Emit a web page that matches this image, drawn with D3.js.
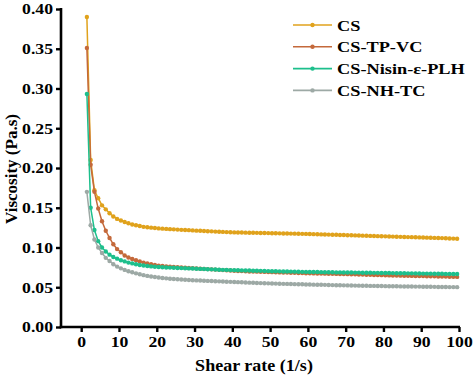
<!DOCTYPE html>
<html><head><meta charset="utf-8">
<script src="https://cdn.jsdelivr.net/npm/d3@7"></script>
<style>html,body{margin:0;padding:0;background:#fff;}svg{display:block;}</style>
</head><body>
<svg id="chart" width="474" height="377"></svg>
<script>
const shearRate = [1.5,2.5,3.5,4.5,5.5,6.5,7.5,8.5,9.5,10.5,11.5,12.5,13.5,14.5,15.5,16.5,17.5,18.5,19.5,20.5,
21.5,22.5,23.5,24.5,25.5,26.5,27.5,28.5,29.5,30.5,31.5,32.5,33.5,34.5,35.5,36.5,37.5,38.5,39.5,40.5,
41.5,42.5,43.5,44.5,45.5,46.5,47.5,48.5,49.5,50.5,51.5,52.5,53.5,54.5,55.5,56.5,57.5,58.5,59.5,60.5,
61.5,62.5,63.5,64.5,65.5,66.5,67.5,68.5,69.5,70.5,71.5,72.5,73.5,74.5,75.5,76.5,77.5,78.5,79.5,80.5,
81.5,82.5,83.5,84.5,85.5,86.5,87.5,88.5,89.5,90.5,91.5,92.5,93.5,94.5,95.5,96.5,97.5,98.5,99.5];

const csValues = [0.390,0.210,0.172,0.162,0.153,0.148,0.143,0.139,0.136,0.134,0.132,0.1305,0.129,0.128,0.127,0.126,0.1255,0.125,0.1245,0.124,
0.1237,0.1234,0.1231,0.1228,0.1225,0.1222,0.122,0.1218,0.1215,0.1212,0.121,0.1207,0.1205,0.1203,0.12,0.1198,0.1196,0.1194,0.1192,0.119,
0.1189,0.1188,0.1187,0.1186,0.1185,0.1184,0.1183,0.1182,0.1181,0.118,
0.1179,0.1178,0.1177,0.1176,0.1175,0.1174,0.1173,0.1172,0.1171,0.117,
0.1168,0.1167,0.1165,0.1164,0.1162,0.1161,0.116,0.1158,0.1157,0.1155,
0.1154,0.1152,0.1151,0.1149,0.1148,0.1146,0.1145,0.1143,0.1142,0.114,
0.1138,0.1137,0.1135,0.1134,0.1132,0.1131,0.113,0.1128,0.1127,0.1125,
0.1124,0.1122,0.1121,0.1119,0.1118,0.1116,0.1114,0.1112,0.111];

const tpvcValues = [0.351,0.204,0.170,0.149,0.133,0.121,0.112,0.104,0.098,0.094,0.090,0.0875,0.0855,0.084,0.0825,0.081,0.080,0.079,0.078,0.0772,
0.0767,0.0762,0.0758,0.0755,0.0752,0.0749,0.0746,0.0743,0.074,0.0737,0.0734,0.0731,0.0728,0.0725,0.0722,0.0719,0.0716,0.0713,0.071,0.0707,
0.0705,0.0703,0.0701,0.0699,0.0698,0.0696,0.0694,0.0693,0.0691,0.069,
0.0688,0.0687,0.0685,0.0684,0.0682,0.0681,0.068,0.0678,0.0677,0.0675,
0.0674,0.0673,0.0672,0.0671,0.067,0.0669,0.0668,0.0667,0.0666,0.0665,
0.0664,0.0662,0.0661,0.0659,0.0658,0.0656,0.0655,0.0653,0.0652,0.065,
0.0649,0.0648,0.0647,0.0646,0.0645,0.0644,0.0643,0.0642,0.0641,0.064,
0.0639,0.0638,0.0637,0.0636,0.0635,0.0634,0.0633,0.0632,0.063];

const nisinValues = [0.293,0.150,0.122,0.108,0.100,0.095,0.091,0.088,0.086,0.084,0.0825,0.081,0.080,0.079,0.078,0.0773,0.0767,0.0762,0.0758,0.0755,
0.0752,0.0749,0.0747,0.0745,0.0743,0.0741,0.0739,0.0737,0.0735,0.0733,0.0731,0.0729,0.0727,0.0725,0.0723,0.0721,0.0719,0.0718,0.0716,0.0715,
0.0714,0.0712,0.0711,0.071,0.0708,0.0707,0.0706,0.0705,0.0703,0.0702,
0.0701,0.07,0.0699,0.0698,0.0697,0.0696,0.0695,0.0694,0.0693,0.0692,
0.0691,0.0691,0.069,0.0689,0.0689,0.0688,0.0687,0.0687,0.0686,0.0685,
0.0685,0.0684,0.0684,0.0683,0.0682,0.0682,0.0681,0.0681,0.068,0.0679,
0.0679,0.0678,0.0677,0.0677,0.0676,0.0675,0.0675,0.0674,0.0673,0.0672,
0.0672,0.0671,0.067,0.067,0.0669,0.0668,0.0668,0.0667,0.0666];

const nhtcValues = [0.170,0.128,0.110,0.100,0.093,0.087,0.083,0.079,0.076,0.0738,0.0718,0.0702,0.0688,0.0675,0.0663,0.0652,0.0643,0.0635,0.0628,0.0622,
0.0617,0.0612,0.0607,0.0603,0.06,0.0597,0.0594,0.0591,0.0588,0.0586,0.0584,0.0582,0.058,0.0578,0.0576,0.0574,0.0572,0.057,0.0568,0.0566,
0.0564,0.0562,0.056,0.0558,0.0556,0.0554,0.0552,0.055,0.0549,0.0547,
0.0546,0.0544,0.0543,0.0542,0.054,0.0539,0.0538,0.0537,0.0535,0.0534,
0.0533,0.0532,0.0531,0.053,0.0528,0.0527,0.0526,0.0525,0.0524,0.0523,
0.0522,0.0521,0.052,0.0519,0.0518,0.0517,0.0517,0.0516,0.0515,0.0514,
0.0513,0.0512,0.0512,0.0511,0.051,0.051,0.0509,0.0508,0.0508,0.0507,
0.0506,0.0506,0.0505,0.0504,0.0504,0.0503,0.0502,0.0502,0.0501];

const seriesNames = ["CS","CS-TP-VC","CS-Nisin-\u03b5-PLH","CS-NH-TC"];
const seriesColors = ["#E0A21C","#C4693B","#1DBF8C","#9DA9A5"];
const seriesValues = [csValues, tpvcValues, nisinValues, nhtcValues];
const xTicks = [0,10,20,30,40,50,60,70,80,90,100];
const yTicks = [0,0.05,0.10,0.15,0.20,0.25,0.30,0.35,0.40];

const svg = d3.select("#chart");
const pLeft = 61, pRight = 459, pTop = 9, pBottom = 327;
const x = d3.scaleLinear().domain([-5.35, 100]).range([pLeft, pRight]);
const y = d3.scaleLinear().domain([0, 0.40]).range([pBottom, pTop]);
const font = "'Liberation Serif','Times New Roman',serif";

// horizontally stretch text like the reference
function stretch(sel, factor) {
  sel.each(function () {
    const len = this.getComputedTextLength();
    d3.select(this).attr("textLength", len * factor).attr("lengthAdjust", "spacingAndGlyphs");
  });
}

// lines and markers
const line = d3.line().x(d => x(d[0])).y(d => y(d[1]));
seriesValues.forEach((vals, si) => {
  const pts = shearRate.map((r, i) => [r, vals[i]]);
  const g = svg.append("g");
  g.append("path").datum(pts).attr("d", line).attr("fill", "none")
    .attr("stroke", seriesColors[si]).attr("stroke-width", 1.5);
  g.selectAll("circle").data(pts).join("circle")
    .attr("cx", d => x(d[0])).attr("cy", d => y(d[1])).attr("r", 2.2)
    .attr("fill", seriesColors[si]);
});

// axes
const yAxis = svg.append("g").attr("transform", `translate(${pLeft},0)`)
  .call(d3.axisLeft(y).tickValues(yTicks).tickFormat(d3.format(".2f")).tickSize(5).tickPadding(3));
const xAxis = svg.append("g").attr("transform", `translate(0,${pBottom})`)
  .call(d3.axisBottom(x).tickValues(xTicks).tickFormat(d3.format("d")).tickSize(5).tickPadding(4));
[yAxis, xAxis].forEach(a => {
  a.select(".domain").attr("stroke", "#000").attr("stroke-width", 2.6);
  a.selectAll(".tick line").attr("stroke", "#000").attr("stroke-width", 2.4);
  a.selectAll("text").attr("font-family", font).attr("font-weight", "bold")
    .attr("font-size", 15.5).attr("fill", "#000");
  stretch(a.selectAll("text"), 1.14);
});
yAxis.select(".domain").attr("d", `M0,${pTop - 1}V${pBottom + 1.3}`);
xAxis.select(".domain").attr("d", `M${pLeft - 1.3},0H${pRight + 1}`);

// axis titles
const xt = svg.append("text").attr("x", 254).attr("y", 371).attr("text-anchor", "middle")
  .attr("font-family", font).attr("font-weight", "bold").attr("font-size", 17)
  .text("Shear rate (1/s)");
stretch(xt, 1.06);
const yt = svg.append("text").attr("transform", "translate(17,169) rotate(-90)").attr("text-anchor", "middle")
  .attr("font-family", font).attr("font-weight", "bold").attr("font-size", 17)
  .text("Viscosity (Pa.s)");

// legend
const legend = svg.append("g");
seriesNames.forEach((name, i) => {
  const ly = 25 + i * 21.8;
  legend.append("line").attr("x1", 293).attr("x2", 332).attr("y1", ly).attr("y2", ly)
    .attr("stroke", seriesColors[i]).attr("stroke-width", 1.6);
  legend.append("circle").attr("cx", 312.5).attr("cy", ly).attr("r", 2.2).attr("fill", seriesColors[i]);
  const t = legend.append("text").attr("x", 337).attr("y", ly + 5.5)
    .attr("font-family", font).attr("font-weight", "bold").attr("font-size", 15.5)
    .text(name);
  stretch(t, 1.18);
});
</script>
</body></html>
